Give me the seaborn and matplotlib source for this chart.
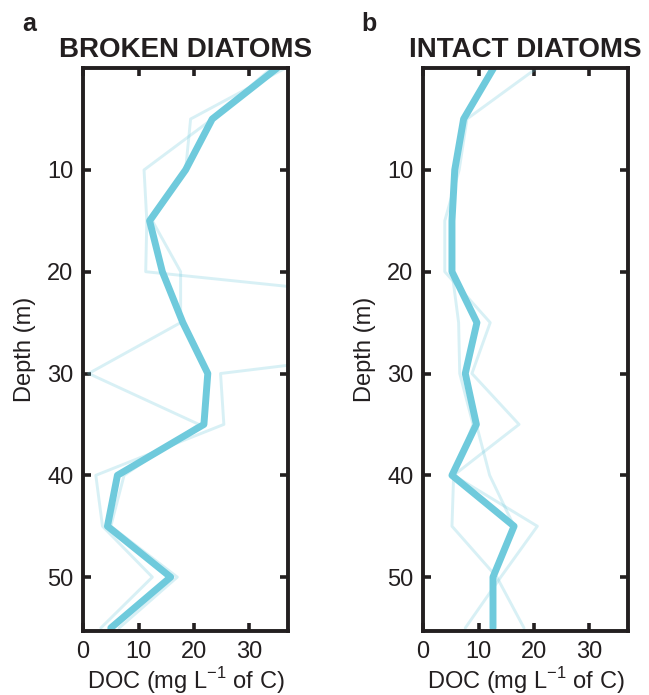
import pandas as pd
import matplotlib.pyplot as plt
import seaborn as sns
import numpy as np

# depth profiles of DOC, replicate casts + median
depth = [0, 5, 10, 15, 20, 25, 30, 35, 40, 45, 50, 55]

# broken diatoms
broken_median = [35.0, 23.3, 18.5, 12.0, 14.3, 18.0, 22.5, 21.8, 6.2, 4.4, 15.8, 5.0]
broken_rep1 = [36.5, 19.4, 18.5, 12.5, 17.6, 17.6, 1.0, 20.9, 7.4, 5.0, 17.0, 6.5]
broken_rep2 = [34.0, 23.3, 11.0, 11.5, 11.3, 100.0, 24.8, 25.4, 2.3, 3.5, 12.5, 3.2]

# intact diatoms
intact_median = [12.7, 7.3, 5.7, 5.2, 5.2, 9.7, 7.6, 9.6, 5.2, 16.4, 12.6, 12.6]
intact_rep1 = [20.5, 7.9, 6.5, 3.9, 3.9, 12.1, 8.8, 17.3, 5.5, 20.6, 14.0, 7.6]
intact_rep2 = [12.7, 7.3, 5.7, 5.2, 5.2, 6.4, 6.6, 9.0, 5.5, 5.2, 13.3, 18.2]
intact_rep3 = [12.7, 7.3, 5.7, 5.2, 5.2, 9.7, 7.6, 9.6, 12.0, 16.4, 12.6, 12.6]

panels = [
    ('a', 'BROKEN DIATOMS', broken_median, [broken_rep1, broken_rep2]),
    ('b', 'INTACT DIATOMS', intact_median, [intact_rep1, intact_rep2, intact_rep3]),
]

# plot setup
sns.set_style('ticks')
plt.rcParams['font.family'] = ['Liberation Sans', 'DejaVu Sans']
line_col = '#6fcadc'
ink = '#231f20'
small_text = 17
large_text = 20

fig = plt.figure(figsize = (6.49, 6.95), dpi = 100)
lefts = [0.128, 0.652]

for left, (letter, title, med, reps) in zip(lefts, panels):
    ax = fig.add_axes([left, 0.092, 0.316, 0.810])
    for rep in reps:
        sns.lineplot(x = rep, y = depth, sort = False, estimator = None,
                     color = line_col, alpha = 0.27, linewidth = 2.1, ax = ax)
    sns.lineplot(x = med, y = depth, sort = False, estimator = None,
                 color = line_col, linewidth = 5.0, ax = ax)
    ax.set_xlim(0, 37)
    ax.set_ylim(55.3, 0)
    ax.set_xticks([0, 10, 20, 30])
    ax.set_yticks([10, 20, 30, 40, 50])
    ax.tick_params(direction = 'in', top = True, right = True,
                   length = 6, width = 2.6, color = ink,
                   labelsize = small_text, labelcolor = ink, pad = 7)
    for s in ax.spines.values():
        s.set_linewidth(2.8)
        s.set_color(ink)
    ax.set_xlabel('DOC (mg L$^{\\mathregular{-1}}$ of C)', size = small_text,
                  color = ink, labelpad = 2)
    ax.set_ylabel('Depth (m)', size = small_text, color = ink, labelpad = 8)
    ax.set_title(title, size = large_text, weight = 'bold', color = ink, pad = 8)
    fig.text(left - 0.083, 0.965, letter, size = 18, weight = 'bold', color = ink,
             ha = 'center', va = 'center')

plt.savefig('out.png', dpi = 100)
